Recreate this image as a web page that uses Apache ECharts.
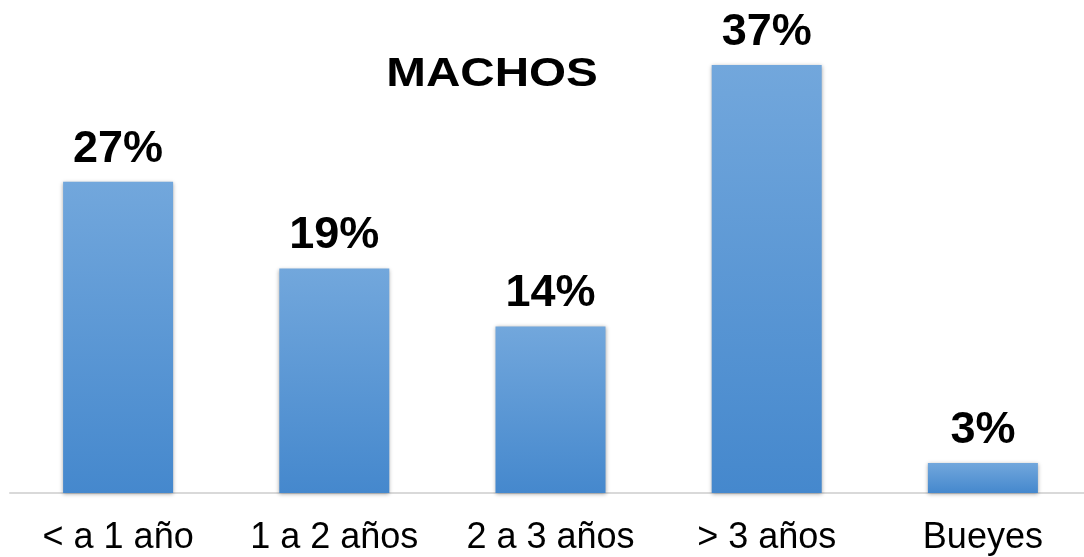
<!DOCTYPE html>
<html>
<head>
<meta charset="utf-8">
<script src="https://cdn.jsdelivr.net/npm/echarts@6/dist/echarts.min.js"></script>
<style>
html,body{margin:0;padding:0;background:#fff;}
#chart{width:1084px;height:557px;}
</style>
</head>
<body>
<div id="chart"></div>
<script>
var titleText = 'MACHOS';
var categories = ['< a 1 año', '1 a 2 años', '2 a 3 años', '> 3 años', 'Bueyes'];
var values = [26.9, 19.4, 14.4, 37.0, 2.6];
var valueLabels = ['27%', '19%', '14%', '37%', '3%'];

var chart = echarts.init(document.getElementById('chart'), null, {renderer: 'canvas'});
var FONT = '"Liberation Sans", Arial, sans-serif';
chart.setOption({
  animation: false,
  backgroundColor: '#ffffff',
  graphic: [{
    type: 'text',
    x: 492,
    y: 75,
    scaleX: 1.19,
    originX: 0,
    style: {
      text: titleText,
      font: 'bold 40px ' + FONT,
      fill: '#000000',
      align: 'center',
      verticalAlign: 'middle'
    }
  }],
  grid: {left: 10, right: -7, top: 30.3, bottom: 64, containLabel: false, outerBoundsMode: 'none'},
  xAxis: {
    type: 'category',
    data: categories,
    axisLine: {show: true, lineStyle: {color: '#d9d9d9', width: 2}},
    axisTick: {show: false},
    axisLabel: {color: '#000000', fontSize: 36, fontFamily: FONT, margin: 27, interval: 0}
  },
  yAxis: {
    type: 'value',
    min: 0,
    max: 40,
    show: false,
    splitLine: {show: false}
  },
  series: [{
    type: 'bar',
    data: values,
    barWidth: 110,
    itemStyle: {
      color: {
        type: 'linear', x: 0, y: 0, x2: 0, y2: 1,
        colorStops: [{offset: 0, color: '#72a7dc'}, {offset: 1, color: '#4588cd'}]
      },
      shadowColor: 'rgba(0,0,0,0.35)',
      shadowBlur: 4,
      shadowOffsetY: 1
    },
    label: {
      show: true,
      position: 'top',
      distance: 10,
      color: '#000000',
      fontSize: 45,
      fontWeight: 'bold',
      fontFamily: FONT,
      formatter: function (p) { return valueLabels[p.dataIndex]; }
    }
  }]
});
</script>
</body>
</html>
